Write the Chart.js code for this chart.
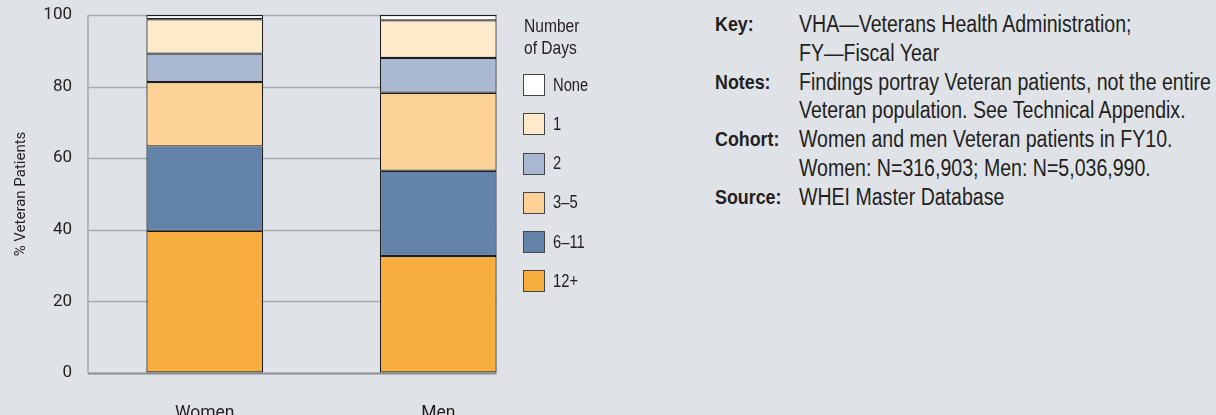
<!DOCTYPE html>
<html lang="en">
<head>
    <meta charset="UTF-8">
    <title>Number of Days - Women and Men Veteran Patients</title>
    <style>
        body { margin: 0; background: #dfe2e7; width: 1216px; height: 415px; overflow: hidden; position: relative;
               font-family: 'Liberation Sans', Arial, sans-serif; color: #231f20; }
        #chartBox { position: absolute; left: 0; top: 0; width: 560px; height: 415px; }
        .narrow { display: inline-block; transform: scaleX(0.82); transform-origin: left center; white-space: nowrap; }
        #legendTitle { position: absolute; left: 524px; top: 15px; font-size: 19px; line-height: 22px; }
        #legend { position: absolute; left: 523px; top: 74px; display: flex; flex-direction: column; gap: 17.3px; }
        .item { display: flex; align-items: center; height: 22px; font-size: 18px; }
        .swatch { width: 22px; height: 22px; box-sizing: border-box; border: 1.5px solid #454545; margin-right: 8px; }
        #notes { position: absolute; left: 715px; top: 10px; display: grid; grid-template-columns: 98.8px auto;
                 font-size: 23px; line-height: 28.8px; white-space: nowrap;
                 transform: scaleX(0.85); transform-origin: left top; }
        #notes b { font-size: 21px; }
    </style>
</head>
<body>
    <div id="chartBox"><canvas id="daysChart"></canvas></div>
    <div id="legendTitle"><span class="narrow">Number</span><br><span class="narrow">of Days</span></div>
    <div id="legend"></div>
    <div id="notes">
        <b>Key:</b><span>VHA—Veterans Health Administration;</span>
        <b></b><span>FY—Fiscal Year</span>
        <b>Notes:</b><span>Findings portray Veteran patients, not the entire</span>
        <b></b><span>Veteran population. See Technical Appendix.</span>
        <b>Cohort:</b><span>Women and men Veteran patients in FY10.</span>
        <b></b><span>Women: N=316,903; Men: N=5,036,990.</span>
        <b>Source:</b><span>WHEI Master Database</span>
    </div>

    <script src="https://cdn.jsdelivr.net/npm/chart.js"></script>
    <script>
        // Data (% of Veteran patients)
        const categories = ['Women', 'Men'];
        const days12Plus = [39.7, 32.7];
        const days6to11 = [23.6, 23.8];
        const days3to5 = [18.0, 21.8];
        const days2 = [7.9, 9.7];
        const days1 = [9.6, 10.5];
        const daysNone = [1.2, 1.5];
        const yTicks = [0, 20, 40, 60, 80, 100];

        const fontFamily = "Roboto, 'Liberation Sans', sans-serif";
        const textColor = '#231f20';

        const series = [
            { label: '12+', data: days12Plus, color: '#f8ad3f' },
            { label: '6–11', data: days6to11, color: '#6483ab' },
            { label: '3–5', data: days3to5, color: '#fcd296' },
            { label: '2', data: days2, color: '#aab8d2' },
            { label: '1', data: days1, color: '#fdeacb' },
            { label: 'None', data: daysNone, color: '#ffffff' }
        ];

        // grid lines stop at the right edge of the last bar, like the original
        const partialGrid = {
            id: 'partialGrid',
            beforeDatasetsDraw(chart) {
                const { ctx, chartArea, scales: { y } } = chart;
                const bars = chart.getDatasetMeta(0).data;
                const last = bars[bars.length - 1];
                const right = last.x + last.width / 2;
                ctx.save();
                y.ticks.forEach(t => {
                    const py = Math.round(y.getPixelForValue(t.value)) + 0.5;
                    ctx.strokeStyle = t.value === 0 ? '#8c8d90' : '#a9abae';
                    ctx.lineWidth = t.value === 0 ? 2 : 1.5;
                    ctx.beginPath();
                    ctx.moveTo(chartArea.left, py);
                    ctx.lineTo(right, py);
                    ctx.stroke();
                });
                ctx.strokeStyle = '#a9abae';
                ctx.lineWidth = 1.5;
                ctx.beginPath();
                ctx.moveTo(chartArea.left, y.getPixelForValue(100));
                ctx.lineTo(chartArea.left, y.getPixelForValue(0));
                ctx.stroke();
                ctx.restore();
            }
        };

        const chart = new Chart(document.getElementById('daysChart'), {
            type: 'bar',
            data: {
                labels: categories,
                datasets: series.map(s => ({
                    label: s.label,
                    data: s.data,
                    backgroundColor: s.color,
                    borderColor: '#1e1e1e',
                    borderWidth: 1.2,
                    borderSkipped: false,
                    barPercentage: 0.5,
                    categoryPercentage: 1
                }))
            },
            options: {
                responsive: true,
                maintainAspectRatio: false,
                animation: false,
                layout: { padding: { top: 15, right: 5, bottom: 0, left: 0 } },
                plugins: { legend: { display: false }, tooltip: { enabled: false } },
                scales: {
                    x: {
                        stacked: true,
                        grid: { display: false },
                        border: { display: false },
                        ticks: { color: textColor, padding: 22, font: { family: fontFamily, size: 17.5 } },
                        afterFit: scale => { scale.height = 42; }
                    },
                    y: {
                        stacked: true,
                        min: 0,
                        max: 100,
                        afterBuildTicks: scale => { scale.ticks = yTicks.map(v => ({ value: v })); },
                        // invisible tick marks give the label gap without padding the top of the plot
                        grid: { color: 'transparent', drawOnChartArea: false, tickLength: 16 },
                        border: { display: false },
                        ticks: { color: textColor, padding: 0, font: { family: fontFamily, size: 17 } },
                        title: {
                            display: true,
                            text: '% Veteran Patients',
                            color: textColor,
                            padding: { top: 12, bottom: 0 },
                            font: { family: fontFamily, size: 15 }
                        },
                        afterFit: scale => { scale.width = 88; }
                    }
                }
            },
            plugins: [partialGrid]
        });

        // legend, top to bottom: None ... 12+
        const legend = document.getElementById('legend');
        chart.data.datasets.slice().reverse().forEach(ds => {
            const item = document.createElement('div');
            item.className = 'item';
            item.innerHTML = `<span class="swatch" style="background:${ds.backgroundColor}"></span><span class="narrow">${ds.label}</span>`;
            legend.appendChild(item);
        });
    </script>
</body>
</html>
